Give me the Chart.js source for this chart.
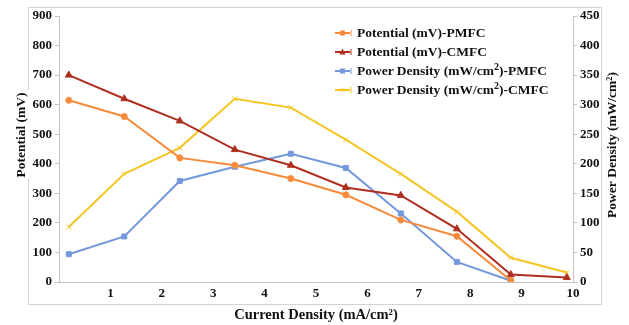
<!DOCTYPE html>
<html><head><meta charset="utf-8">
<script src="https://cdn.jsdelivr.net/npm/chart.js@4/dist/chart.umd.min.js"></script>
<style>
html,body{margin:0;padding:0;background:#fff;}
#wrap{position:relative;width:629px;height:325px;}
#legend{position:absolute;left:334px;top:23px;font:bold 13.5px "Liberation Serif","Times New Roman",serif;color:#111;}
.row{height:19.2px;display:flex;align-items:center;white-space:nowrap;}
.row svg{margin-right:5px;flex:none;}
sup{font-size:10px;line-height:0;}
</style></head><body>
<div id="wrap"><canvas id="c" width="629" height="325"></canvas><div id="legend"></div></div>
<script>
// ---- data ----
const currentDensity = [0.19, 1.27, 2.35, 3.42, 4.51, 5.58, 6.65, 7.74, 8.79, 9.88];
const potentialPMFC  = [615, 560, 420, 395, 350, 295, 210, 155, 5];
const potentialCMFC  = [700, 620, 545, 448, 395, 320, 293, 180, 25, 15];
const powerPMFC      = [47, 77, 171, 195, 217, 193, 116, 34, 2];
const powerCMFC      = [93, 183, 227, 310, 295, 241, 183, 119, 41, 16];
const seriesLabels = ['Potential (mV)-PMFC', 'Potential (mV)-CMFC', 'Power Density (mW/cm2)-PMFC', 'Power Density (mW/cm2)-CMFC'];
const axisTitles = { x: 'Current Density (mA/cm²)', yLeft: 'Potential (mV)', yRight: 'Power Density (mW/cm²)' };

const pts = (ys) => ys.map((y, i) => ({ x: currentDensity[i], y }));
const FONT = '"Liberation Serif","Times New Roman",serif';
const tickFont = { family: FONT, size: 13, weight: 'bold' };
const colors = ['#F88B3B', '#AE2F1F', '#7398DC', '#F5C523'];
const markers = ['star', 'triangle', 'rect', 'crossRot'];

const mk = (i, data, axis, radius) => ({
  label: seriesLabels[i], data: pts(data), yAxisID: axis,
  borderColor: colors[i], backgroundColor: colors[i], borderWidth: 2,
  pointStyle: markers[i], pointRadius: radius, pointBorderWidth: i === 0 ? 2 : 1,
  pointBackgroundColor: colors[i], pointBorderColor: colors[i], tension: 0
});

const frame = {
  id: 'frame',
  beforeDraw(chart) {
    const c = chart.ctx;
    c.save();
    c.fillStyle = '#fff'; c.fillRect(0, 0, chart.width, chart.height);
    c.strokeStyle = '#d4d4d4'; c.lineWidth = 1;
    c.beginPath();
    c.moveTo(28.5, 90); c.lineTo(28.5, 7.5); c.lineTo(601.5, 7.5); c.lineTo(601.5, 304.5);
    c.lineTo(28.5, 304.5); c.lineTo(28.5, 178);
    c.stroke();
    c.restore();
  }
};

// vertical axis titles, both reading bottom-to-top as in the reference
const yTitles = {
  id: 'yTitles',
  afterDraw(chart) {
    const c = chart.ctx;
    c.save();
    c.fillStyle = '#111';
    c.font = 'bold 13.5px ' + FONT;
    c.textAlign = 'center'; c.textBaseline = 'middle';
    const draw = (txt, x, y) => { c.save(); c.translate(x, y); c.rotate(-Math.PI / 2); c.fillText(txt, 0, 0); c.restore(); };
    draw(axisTitles.yLeft, 22, 135);
    draw(axisTitles.yRight, 613, 145);
    c.restore();
  }
};

const chart = new Chart(document.getElementById('c'), {
  type: 'line',
  data: { datasets: [
    mk(0, potentialPMFC, 'y', 3.5),
    mk(1, potentialCMFC, 'y', 4),
    mk(2, powerPMFC, 'y1', 3.5),
    mk(3, powerCMFC, 'y1', 3.5)
  ]},
  options: {
    responsive: false, animation: false, devicePixelRatio: 1,
    layout: { padding: { top: 16, left: 0, right: 0, bottom: 0 } },
    plugins: { legend: { display: false }, tooltip: { enabled: false } },
    scales: {
      x: {
        type: 'linear', min: 0, max: 10, position: 'bottom',
        ticks: { stepSize: 1, font: tickFont, color: '#111', padding: 4, maxRotation: 0,
                 callback: v => v === 0 ? '' : v },
        grid: { display: false, drawTicks: false },
        border: { display: true, color: '#c4c4c4' },
        title: { display: true, text: axisTitles.x, font: { family: FONT, size: 14.5, weight: 'bold' }, color: '#111', padding: { top: 0, bottom: 1 } },
        afterFit(s) { s.height = 43; }
      },
      y: {
        position: 'left', min: 0, max: 900,
        ticks: { stepSize: 100, font: tickFont, color: '#111', padding: 3 },
        grid: { display: true, drawOnChartArea: false, drawTicks: true, tickLength: 4, color: '#c4c4c4' },
        border: { display: true, color: '#c4c4c4' },
        title: { display: false },
        afterFit(s) { s.width = 59; }
      },
      y1: {
        position: 'right', min: 0, max: 450,
        ticks: { stepSize: 50, font: tickFont, color: '#111', padding: 3 },
        grid: { display: true, drawOnChartArea: false, drawTicks: true, tickLength: 4, color: '#c4c4c4' },
        border: { display: true, color: '#c4c4c4' },
        title: { display: false },
        afterFit(s) { s.width = 56; }
      }
    }
  },
  plugins: [frame, yTitles]
});

// HTML legend built from the datasets
function markerSvg(style, color) {
  const line = `<line x1="1" y1="5" x2="16" y2="5" stroke="${color}" stroke-width="2"/><line x1="17" y1="2" x2="17" y2="8" stroke="${color}" stroke-width="1"/>`;
  let m = '';
  if (style === 'star') m = `<path d="M8.5 2v6M5.5 5h6M6.4 2.9l4.2 4.2M10.6 2.9l-4.2 4.2" stroke="${color}" stroke-width="1.5"/>`;
  else if (style === 'triangle') m = `<path d="M8.5 1.5L11.5 7.5H5.5Z" fill="${color}"/>`;
  else if (style === 'rect') m = `<rect x="6" y="2.5" width="5" height="5" fill="${color}"/>`;
  else m = `<path d="M6.5 3l4 4M10.5 3l-4 4" stroke="${color}" stroke-width="1"/>`;
  return `<svg width="18" height="10" viewBox="0 0 18 10">${line}${m}</svg>`;
}
const legendEl = document.getElementById('legend');
chart.data.datasets.forEach((ds, i) => {
  const txt = ds.label.replace('cm2', 'cm<sup>2</sup>');
  legendEl.insertAdjacentHTML('beforeend', `<div class="row">${markerSvg(markers[i], colors[i])}<span>${txt}</span></div>`);
});
</script>
</body></html>
